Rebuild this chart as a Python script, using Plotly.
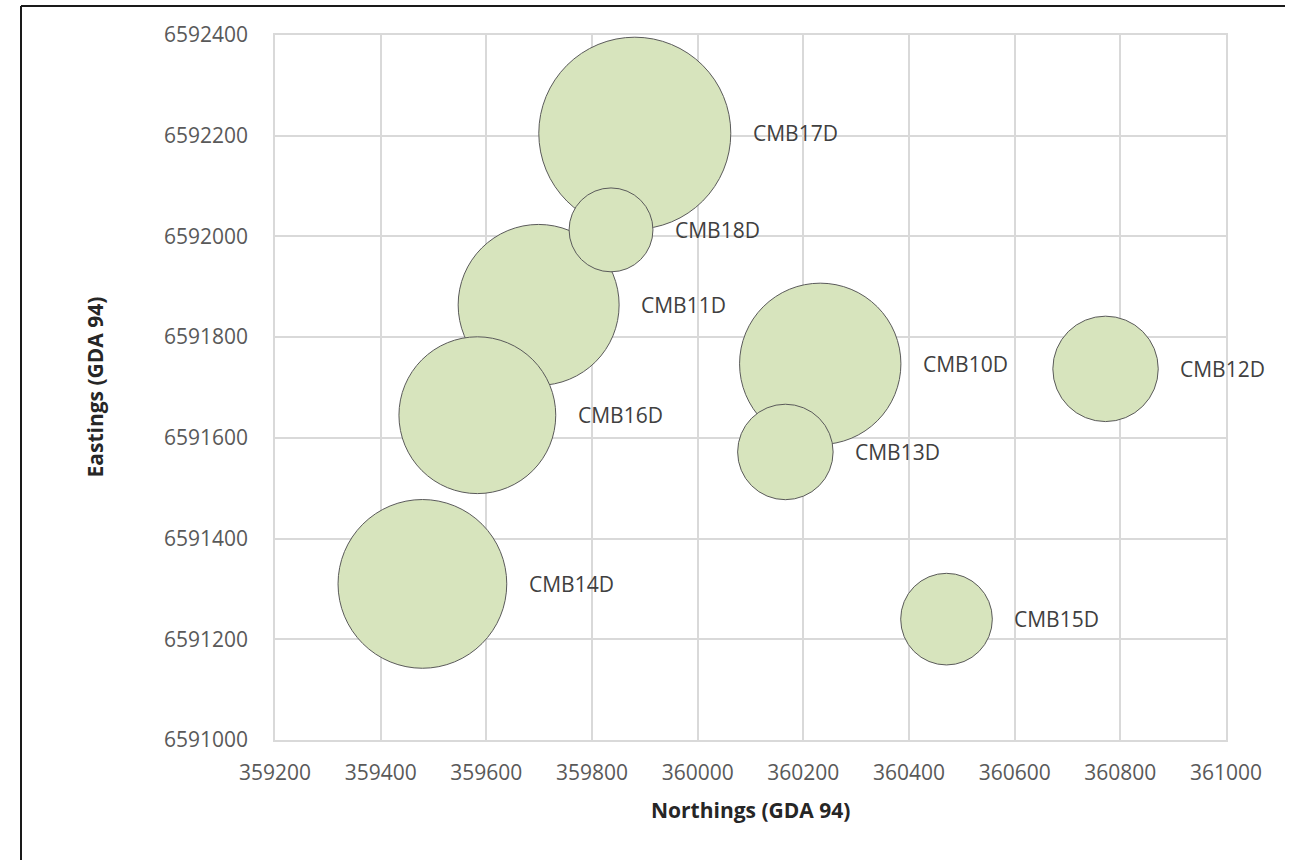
import math
import plotly.graph_objects as go

# Monitoring bores: grid coordinates and bubble magnitude
wells = ["CMB10D", "CMB11D", "CMB12D", "CMB13D", "CMB14D",
         "CMB15D", "CMB16D", "CMB17D", "CMB18D"]
northings = [360232, 359699, 360772, 360166, 359479,
             360471, 359583, 359881, 359836]
eastings = [6591747, 6591864, 6591737, 6591572, 6591310,
            6591240, 6591645, 6592205, 6592013]
magnitude = [65.1, 64.8, 27.8, 22.8, 71.2, 21.0, 61.5, 92.2, 17.6]

x_ticks = list(range(359200, 361001, 200))
y_ticks = list(range(6591000, 6592401, 200))

W, H = 1290, 860
M_L, M_R, M_T, M_B = 275, 64, 35, 120
PW, PH = W - M_L - M_R, H - M_T - M_B

MAX_D = 192  # diameter in px of the largest bubble
vmax = max(magnitude)
sizeref = 2.0 * vmax / MAX_D ** 2

# larger bubbles first so smaller ones sit on top
order = sorted(range(len(wells)), key=lambda i: -magnitude[i])
xs = [northings[i] for i in order]
ys = [eastings[i] for i in order]
vs = [magnitude[i] for i in order]
names = [wells[i] for i in order]

FONT = "Open Sans"
fig = go.Figure()
fig.add_trace(go.Scatter(
    x=xs, y=ys, mode="markers",
    marker=dict(size=vs, sizemode="area", sizeref=sizeref,
                color="#d7e4bd", opacity=1,
                line=dict(color="#5a5a5a", width=1)),
    hoverinfo="text", text=names, showlegend=False,
))

# bore labels to the right of each bubble
annotations = []
for x, y, v, n in zip(xs, ys, vs, names):
    d = MAX_D * math.sqrt(v / vmax)
    annotations.append(dict(
        x=x, y=y, xref="x", yref="y", text=n, showarrow=False,
        xanchor="left", yanchor="middle", xshift=d / 2 + 20,
        font=dict(family=FONT, size=21, color="#404040"),
    ))

# axis titles
annotations.append(dict(
    x=0.5, y=-70 / PH, xref="paper", yref="paper",
    text="<b>Northings (GDA 94)</b>", showarrow=False,
    xanchor="center", yanchor="middle",
    font=dict(family=FONT, size=21, color="#262626"),
))
annotations.append(dict(
    x=-181 / PW, y=0.5, xref="paper", yref="paper",
    text="<b>Eastings (GDA 94)</b>", showarrow=False, textangle=-90,
    xanchor="center", yanchor="middle",
    font=dict(family=FONT, size=21, color="#262626"),
))

axis_common = dict(
    showgrid=True, gridcolor="#d9d9d9", gridwidth=1.5,
    showline=True, linecolor="#d9d9d9", linewidth=1.5, mirror=True,
    zeroline=False, ticks="",
    tickfont=dict(family=FONT, size=21, color="#595959"),
)

fig.update_layout(
    width=W, height=H,
    margin=dict(l=M_L, r=M_R, t=M_T, b=M_B, autoexpand=False),
    paper_bgcolor="white", plot_bgcolor="white",
    xaxis=dict(range=[359200, 361000], tickvals=x_ticks,
               ticktext=[str(t) for t in x_ticks],
               ticklabelstandoff=13, **axis_common),
    yaxis=dict(range=[6591000, 6592400], tickvals=y_ticks,
               ticktext=[str(t) for t in y_ticks],
               ticklabelstandoff=21, **axis_common),
    annotations=annotations,
    shapes=[
        dict(type="line", xref="paper", yref="paper",
             x0=(21 - M_L) / PW, x1=(1285 - M_L) / PW,
             y0=(H - M_B - 6) / PH, y1=(H - M_B - 6) / PH,
             line=dict(color="#1a1a1a", width=2)),
        dict(type="line", xref="paper", yref="paper",
             x0=(21 - M_L) / PW, x1=(21 - M_L) / PW,
             y0=(H - M_B - 6) / PH, y1=-(M_B + 5) / PH,
             line=dict(color="#1a1a1a", width=2)),
    ],
)

fig.write_html("out.html")
